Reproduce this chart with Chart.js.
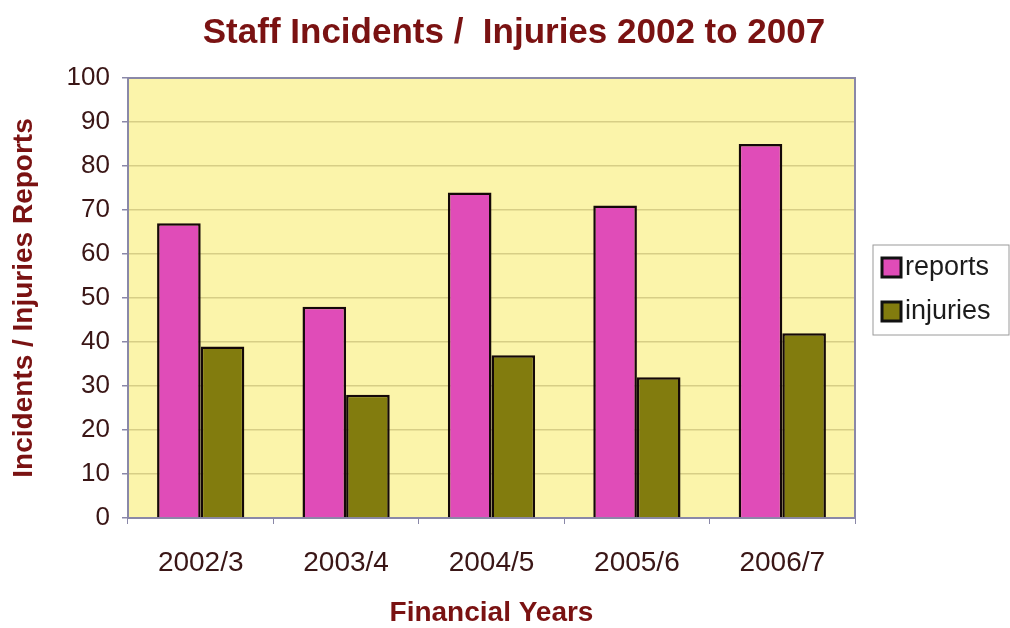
<!DOCTYPE html>
<html>
<head>
<meta charset="utf-8">
<title>Staff Incidents / Injuries 2002 to 2007</title>
<script src="https://cdn.jsdelivr.net/npm/chart.js@4/dist/chart.umd.min.js"></script>
<style>
  html, body { margin: 0; padding: 0; background: #ffffff; }
  #wrap { width: 1010px; height: 628px; }
</style>
</head>
<body>
<div id="wrap"><canvas id="incidentChart" width="1010" height="628"></canvas></div>
<script>
// Financial years and yearly counts
const years = ["2002/3", "2003/4", "2004/5", "2005/6", "2006/7"];
const reports = [67, 48, 74, 71, 85];
const injuries = [39, 28, 37, 32, 42];
const yTicks = [0, 10, 20, 30, 40, 50, 60, 70, 80, 90, 100];
const heading = "Staff Incidents /  Injuries 2002 to 2007";

const maroon = "#7a1212";
const tickInk = "#3a1616";
const sans = "'Liberation Sans', Arial, sans-serif";

// Yellow plot background plus the thin frame round it
const plotFrame = {
    id: "plotFrame",
    beforeDraw(chart) {
        const { ctx, chartArea: a } = chart;
        ctx.save();
        ctx.fillStyle = "#fbf4aa";
        ctx.fillRect(a.left, a.top, a.right - a.left, a.bottom - a.top);
        ctx.restore();
    },
    beforeDatasetsDraw(chart) {
        const { ctx, chartArea: a } = chart;
        ctx.save();
        ctx.strokeStyle = "#8a88a8";
        ctx.lineWidth = 2;
        ctx.strokeRect(a.left, a.top, a.right - a.left, a.bottom - a.top);
        ctx.restore();
    }
};

// Heading centred over the whole picture, legend included
const headingPlugin = {
    id: "heading",
    afterDraw(chart) {
        const { ctx } = chart;
        ctx.save();
        ctx.fillStyle = maroon;
        ctx.font = "bold 35px " + sans;
        ctx.textAlign = "center";
        ctx.textBaseline = "alphabetic";
        ctx.fillText(heading, 514, 43);
        ctx.restore();
    }
};

// Boxed legend to the right of the plot
const sideLegend = {
    id: "sideLegend",
    afterDraw(chart) {
        const { ctx } = chart;
        const x = 873, y = 245, w = 136, h = 90;
        ctx.save();
        ctx.strokeStyle = "#9a9a9a";
        ctx.lineWidth = 1;
        ctx.strokeRect(x, y, w, h);
        ctx.font = "27px " + sans;
        ctx.textBaseline = "middle";
        chart.data.datasets.forEach((ds, i) => {
            const cy = 268 + i * 44;
            ctx.fillStyle = ds.backgroundColor;
            ctx.fillRect(x + 9, cy - 10, 19, 19);
            ctx.strokeStyle = "#111";
            ctx.lineWidth = 3;
            ctx.strokeRect(x + 9, cy - 10, 19, 19);
            ctx.fillStyle = "#1c1c1c";
            ctx.fillText(ds.label, x + 32, cy);
        });
        ctx.restore();
    }
};

new Chart(document.getElementById("incidentChart"), {
    type: "bar",
    data: {
        labels: years,
        datasets: [
            { label: "reports", data: reports, backgroundColor: "#e04cb8", borderColor: "#140808", borderWidth: 2.5 },
            { label: "injuries", data: injuries, backgroundColor: "#827c0e", borderColor: "#140808", borderWidth: 2.5 }
        ]
    },
    options: {
        responsive: false,
        animation: false,
        layout: { padding: { left: 0, right: 155, top: 78, bottom: 0 } },
        datasets: { bar: { categoryPercentage: 0.6, barPercentage: 1.0 } },
        plugins: {
            legend: { display: false },
            tooltip: { enabled: false },
            title: { display: false }
        },
        scales: {
            x: {
                grid: { display: true, drawOnChartArea: false, tickLength: 6, color: "#8a88a8" },
                border: { display: false },
                ticks: { color: tickInk, padding: 22, font: { family: sans, size: 28 } },
                title: {
                    display: true,
                    text: "Financial Years",
                    color: maroon,
                    font: { family: sans, size: 28, weight: "bold" },
                    padding: { top: 0, bottom: -2 }
                },
                afterFit(scale) { scale.height = 110; }
            },
            y: {
                min: 0,
                max: 100,
                afterBuildTicks(scale) { scale.ticks = yTicks.map(v => ({ value: v })); },
                grid: { color: "rgba(170,160,90,0.45)", lineWidth: 1.5, tickLength: 6, tickColor: "#8a88a8" },
                border: { display: false },
                ticks: { color: tickInk, padding: 12, font: { family: sans, size: 26 } },
                title: {
                    display: true,
                    text: "Incidents / Injuries Reports",
                    color: maroon,
                    font: { family: sans, size: 28, weight: "bold" },
                    padding: { top: 7, bottom: 0 }
                },
                afterFit(scale) { scale.width = 128; }
            }
        }
    },
    plugins: [plotFrame, headingPlugin, sideLegend]
});
</script>
</body>
</html>
